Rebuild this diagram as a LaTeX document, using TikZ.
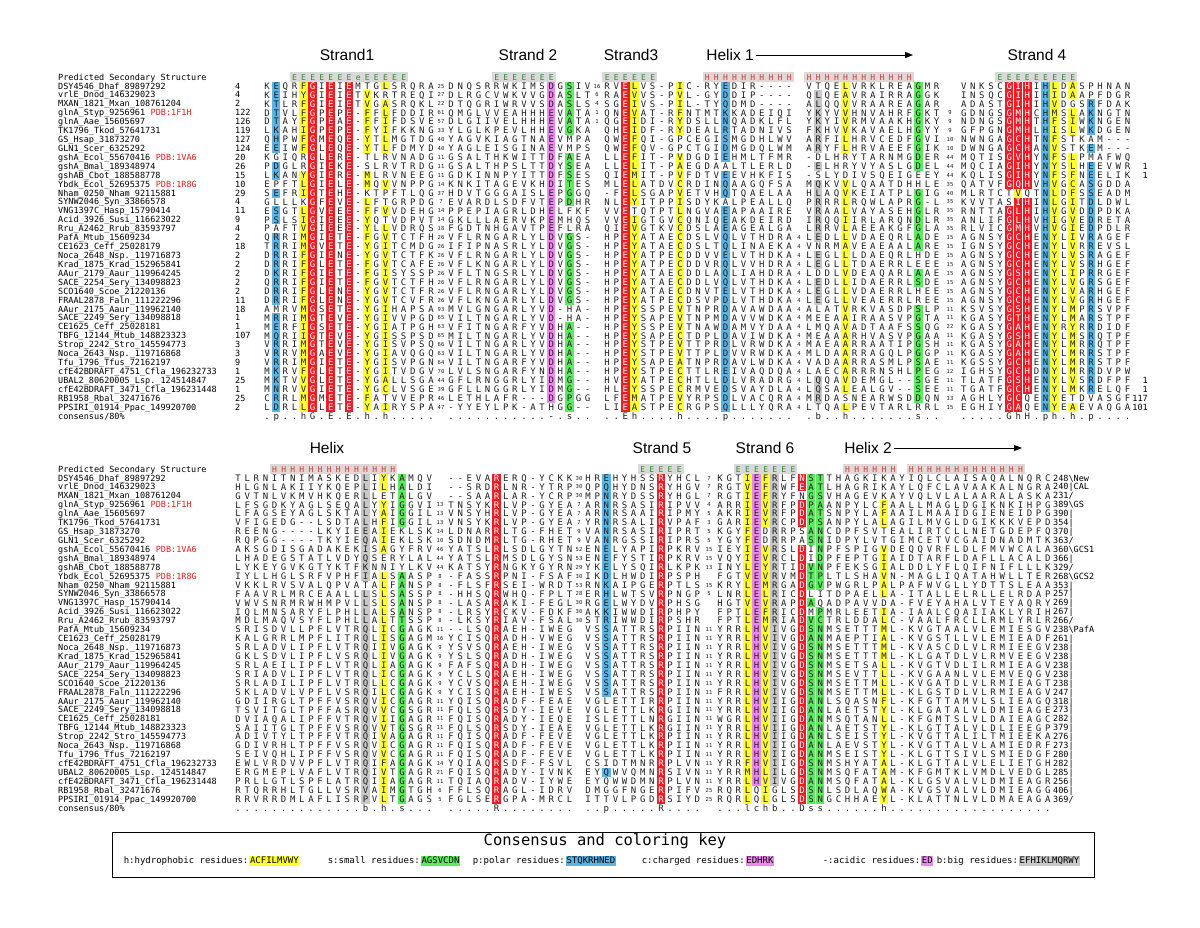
\documentclass[tikz,border=0pt]{standalone}
\usepackage{fontspec}
\setmainfont{DejaVu Sans Mono}
\newfontfamily\labfont{Liberation Sans}
\usetikzlibrary{arrows.meta}
\definecolor{cR}{HTML}{EE1C25}
\definecolor{cY}{HTML}{FFFF33}
\definecolor{cB}{HTML}{5AB4E5}
\definecolor{cG}{HTML}{5CEB5C}
\definecolor{cP}{HTML}{EE88EE}
\definecolor{cK}{HTML}{C8C8C8}
\definecolor{ssEbg}{HTML}{D9D9D9}
\definecolor{ssHbg}{HTML}{E3D6D6}
\definecolor{ssEtx}{HTML}{2E8B2E}
\definecolor{ssHtx}{HTML}{C83A3A}
\definecolor{pdbred}{HTML}{E02020}
\definecolor{txt}{HTML}{202020}
\newlength\cw \setlength\cw{9.1pt}
\makeatletter
\newcount\sqi
\def\redset{}
\def\sqend{}
\def\sqstop{\sqend}
\def\sqx#1{\def\sqtmp{#1}\ifx\sqtmp\sqstop\else
 \edef\sqtest{\noexpand\in@{,\the\sqi,}{\redset}}\sqtest
 \ifin@\makebox[\cw][c]{\color{white}#1}\else\makebox[\cw][c]{#1}\fi
 \advance\sqi by 1\relax
 \expandafter\sqx\fi}
\makeatother
\newcommand\sq[1]{\sqi=0\relax\sqx#1\sqend}
\expandafter\def\csname tred13\endcsname{}
\expandafter\def\csname tred14\endcsname{,6,7,}
\expandafter\def\csname tred36\endcsname{,5,6,}
\expandafter\def\csname tred37\endcsname{,5,6,}
\expandafter\def\csname bred3\endcsname{}
\expandafter\def\csname bred7\endcsname{}
\expandafter\def\csname bred8\endcsname{}
\newcommand\ty[1]{86+(#1-1)*8.92}
\newcommand\by[1]{478+(#1-1)*8.92}
\tikzset{
 nm/.style={anchor=west,inner sep=0pt,font=\fontsize{8.5}{8.5}\selectfont,text height=6pt,text depth=0pt,text=black},
 sqs/.style={anchor=west,inner sep=0pt,font=\fontsize{9}{9}\selectfont,text height=6.5pt,text depth=0pt,text=txt},
 sss/.style={anchor=west,inner sep=0pt,font=\fontsize{8}{8}\selectfont,text height=6pt,text depth=0pt},
 sm/.style={inner sep=0pt,font=\fontsize{5.5}{5.5}\selectfont,text height=4pt,text depth=0pt,text=txt},
 lbl/.style={inner sep=0pt,font=\labfont\fontsize{15.5}{15.5}\selectfont},
 keyt/.style={inner sep=0pt,font=\fontsize{15.5}{15.5}\selectfont},
 keyi/.style={anchor=west,inner sep=0.6pt,font=\fontsize{9}{9}\selectfont,text height=6.5pt,text depth=1.8pt},
 arr/.style={-{Triangle[length=8pt,width=6pt]},line width=1pt}
}
\newcommand\tb[5]{\fill[#5] ({#1+#2*9.1-4.3},{\ty{#3}-4.46}) rectangle ({#1+#2*9.1+4.3},{\ty{#4}+4.46});}
\newcommand\bb[5]{\fill[#5] ({#1+#2*9.1-4.3},{\by{#3}-4.46}) rectangle ({#1+#2*9.1+4.3},{\by{#4}+4.46});}
\newcommand\ssE[6]{\fill[ssEbg] ({#2+#3*9.1-4.55},{#5-4.7}) rectangle ({#2+#4*9.1+4.55},{#5+4.7});
 \node[sss,text=ssEtx] (#1) at ({#2+#3*9.1-4.55},#5) {\sq{#6}};}
\newcommand\ssH[6]{\fill[ssHbg] ({#2+#3*9.1-4.55},{#5-4.7}) rectangle ({#2+#4*9.1+4.55},{#5+4.7});
 \node[sss,text=ssHtx] (#1) at ({#2+#3*9.1-4.55},#5) {\sq{#6}};}
\newcommand\nmrow[3]{\node[nm] (#1) at (58,{#2}) {\detokenize{#3}};}
\newcommand\pdb[2]{\node[nm,text=pdbred] (#1p) at ([xshift=5.1pt]#1.east) {#2};}
\newcommand\allnames[2]{%
\nmrow{#1n1}{#2+0*8.92}{DSY4546_Dhaf_89897292}
\nmrow{#1n2}{#2+1*8.92}{vrlE_Dnod_146329023}
\nmrow{#1n3}{#2+2*8.92}{MXAN_1821_Mxan_108761204}
\nmrow{#1n4}{#2+3*8.92}{glnA_Styp_9256961}\pdb{#1n4}{PDB:1F1H}
\nmrow{#1n5}{#2+4*8.92}{glnA_Aae_15605697}
\nmrow{#1n6}{#2+5*8.92}{TK1796_Tkod_57641731}
\nmrow{#1n7}{#2+6*8.92}{GS_Hsap_31873270}
\nmrow{#1n8}{#2+7*8.92}{GLN1_Scer_6325292}
\nmrow{#1n9}{#2+8*8.92}{gshA_Ecol_55670416}\pdb{#1n9}{PDB:1VA6}
\nmrow{#1n10}{#2+9*8.92}{gshA_Bmal_189348974}
\nmrow{#1n11}{#2+10*8.92}{gshAB_Cbot_188588778}
\nmrow{#1n12}{#2+11*8.92}{Ybdk_Ecol_52695375}\pdb{#1n12}{PDB:1R8G}
\nmrow{#1n13}{#2+12*8.92}{Nham_0250_Nham_92115881}
\nmrow{#1n14}{#2+13*8.92}{SYNW2046_Syn_33866578}
\nmrow{#1n15}{#2+14*8.92}{VNG1397C_Hasp_15790414}
\nmrow{#1n16}{#2+15*8.92}{Acid_3926_Susi_116623022}
\nmrow{#1n17}{#2+16*8.92}{Rru_A2462_Rrub_83593797}
\nmrow{#1n18}{#2+17*8.92}{PafA_Mtub_15609234}
\nmrow{#1n19}{#2+18*8.92}{CE1623_Ceff_25028179}
\nmrow{#1n20}{#2+19*8.92}{Noca_2648_Nsp._119716873}
\nmrow{#1n21}{#2+20*8.92}{Krad_1875_Krad_152965841}
\nmrow{#1n22}{#2+21*8.92}{AAur_2179_Aaur_119964245}
\nmrow{#1n23}{#2+22*8.92}{SACE_2254_Sery_134098823}
\nmrow{#1n24}{#2+23*8.92}{SCO1640_Scoe_21220136}
\nmrow{#1n25}{#2+24*8.92}{FRAAL2878_Faln_111222296}
\nmrow{#1n26}{#2+25*8.92}{AAur_2175_Aaur_119962140}
\nmrow{#1n27}{#2+26*8.92}{SACE_2249_Sery_134098818}
\nmrow{#1n28}{#2+27*8.92}{CE1625_Ceff_25028181}
\nmrow{#1n29}{#2+28*8.92}{TBFG_12144_Mtub_148823323}
\nmrow{#1n30}{#2+29*8.92}{Strop_2242_Stro_145594773}
\nmrow{#1n31}{#2+30*8.92}{Noca_2643_Nsp._119716868}
\nmrow{#1n32}{#2+31*8.92}{Tfu_1796_Tfus_72162197}
\nmrow{#1n33}{#2+32*8.92}{cfE42BDRAFT_4751_Cfla_196232733}
\nmrow{#1n34}{#2+33*8.92}{UBAL2_80620005_Lsp._124514847}
\nmrow{#1n35}{#2+34*8.92}{cfE42BDRAFT_3471_Cfla_196231448}
\nmrow{#1n36}{#2+35*8.92}{RB1958_Rbal_32471676}
\nmrow{#1n37}{#2+36*8.92}{PPSIRI_01914_Ppac_149920700}
\node[nm] (#1cons) at (58,{#2+37*8.92}) {consensus/80\%};
\nmrow{#1pred}{#2-9}{Predicted Secondary Structure}}
\newcommand\trow[8]{%
\node[nm] (t#1s) at (235,{\ty{#1}}) {#2};
\node[sqs] (t#1a) at ({267-4.55},{\ty{#1}}) {\def\redset{,5,7,9,}\sq{#3}};
\node[sm] (t#1x) at (441,{\ty{#1}}) {#4};
\node[sqs] (t#1b) at ({451-4.55},{\ty{#1}}) {\sq{#5}};
\node[sm] (t#1y) at (597,{\ty{#1}}) {#6};
\node[sqs] (t#1c) at ({607-4.55},{\ty{#1}}) {\def\redset{,2,}\sq{#7}};
\node[sm] (t#1z) at (799,{\ty{#1}}) {#8};}
\newcommand\trowb[5]{%
\node[sqs] (t#1d) at ({809-4.55},{\ty{#1}}) {\sq{#2}};
\node[sm] (t#1w) at (950,{\ty{#1}}) {#3};
\node[sqs] (t#1e) at ({963.5-4.55},{\ty{#1}}) {\def\redset{,5,6,7,}\ifcsname tred#1\endcsname\edef\redset{\csname tred#1\endcsname}\fi\sq{#4}};
\node[nm,anchor=east] (t#1v) at (1148,{\ty{#1}}) {#5};}
\newcommand\brow[9]{%
\node[sqs] (b#1a) at ({238-4.55},{\by{#1}}) {\sq{#2}};
\node[sm] (b#1x) at (440,{\by{#1}}) {#3};
\node[sqs] (b#1b) at ({451-4.55},{\by{#1}}) {\def\redset{,5,}\sq{#4}};
\node[sm] (b#1y) at (579,{\by{#1}}) {#5};
\node[sqs] (b#1c) at ({588-4.55},{\by{#1}}) {\def\redset{,8,}\sq{#6}};
\node[sm] (b#1z) at (709,{\by{#1}}) {#7};
\node[sqs] (b#1d) at ({720-4.55},{\by{#1}}) {\def\redset{,9,}\ifcsname bred#1\endcsname\edef\redset{\csname bred#1\endcsname}\fi\sq{#8}};
\node[nm] (b#1w) at (1053,{\by{#1}}) {#9};}
\newcommand\bs{\textbackslash}
\begin{document}
\begin{tikzpicture}[x=1pt,y=-1pt]
\fill[white] (0,0) rectangle (1200,927);
\useasboundingbox (0,0) rectangle (1200,927);
% ---------- headers
\node[lbl] (Ls1) at (347,55) {Strand1};
\node[lbl] (Ls2) at (528,55) {Strand 2};
\node[lbl] (Ls3) at (631,55) {Strand3};
\node[lbl] (Lh1) at (730,55) {Helix 1};
\coordinate (Lh1end) at (913,55);
\draw[arr] ([xshift=2pt]Lh1.east) -- (Lh1end);
\node[lbl] (Ls4) at (1037,55) {Strand 4};
\node[lbl] (Lh) at (327,448) {Helix};
\node[lbl] (Ls5) at (662,448) {Strand 5};
\node[lbl] (Ls6) at (765,448) {Strand 6};
\node[lbl] (Lh2) at (868,448) {Helix 2};
\coordinate (Lh2end) at (1022,448);
\draw[arr] ([xshift=2pt]Lh2.east) -- (Lh2end);
% ---------- secondary structure rows
\ssE{tS1}{267}{3}{15}{77}{EEEEEEEeEEEEE}
\ssE{tS2}{451}{5}{11}{77}{EEEEEEE}
\ssE{tS3}{607}{0}{5}{77}{EEEEEE}
\ssH{tH1}{607}{11}{20}{77}{HHHHHHHHHH}
\ssH{tH2}{809}{0}{11}{77}{HHHHHHHHHHHH}
\ssE{tS4}{963.5}{4}{12}{77}{EEEEEEEEE}
\ssH{bH1}{238}{4}{17}{469}{HHHHHHHHHHHHHH}
\ssE{bS5}{588}{6}{10}{469}{EEEEE}
\ssE{bS6}{720}{2}{8}{469}{EEEEEEE}
\ssH{bH2}{720}{14}{19}{469}{HHHHHH}
\ssH{bH3}{720}{21}{33}{469}{HHHHHHHHHHHHH}
% ---------- top colour bands
\tb{267}{1}{1}{8}{cB}\tb{267}{1}{10}{11}{cB}\tb{267}{1}{13}{13}{cB}\tb{267}{1}{15}{16}{cB}\tb{267}{1}{18}{25}{cB}\tb{267}{1}{27}{37}{cB}
\tb{267}{4}{1}{8}{cY}\tb{267}{4}{11}{13}{cY}\tb{267}{4}{15}{37}{cY}
\tb{267}{5}{1}{37}{cR}\tb{267}{7}{1}{37}{cR}\tb{267}{9}{1}{37}{cR}
\tb{267}{11}{2}{8}{cY}\tb{267}{11}{11}{12}{cY}\tb{267}{11}{14}{37}{cY}
\tb{267}{13}{1}{1}{cY}\tb{267}{13}{3}{8}{cY}\tb{267}{13}{12}{12}{cY}\tb{267}{13}{15}{15}{cY}\tb{267}{13}{17}{35}{cY}\tb{267}{13}{37}{37}{cY}
\tb{451}{11}{1}{36}{cP}
\tb{451}{13}{1}{6}{cG}\tb{451}{13}{9}{14}{cG}\tb{451}{13}{18}{25}{cG}\tb{451}{13}{28}{37}{cG}
\tb{607}{2}{1}{37}{cR}
\tb{607}{3}{1}{14}{cY}\tb{607}{3}{16}{37}{cY}
\tb{607}{8}{1}{6}{cY}\tb{607}{8}{9}{37}{cY}
\tb{607}{13}{1}{9}{cB}\tb{607}{13}{11}{13}{cB}\tb{607}{13}{15}{37}{cB}
\tb{809}{1}{2}{8}{cK}\tb{809}{1}{10}{10}{cK}\tb{809}{1}{12}{18}{cK}\tb{809}{1}{20}{21}{cK}\tb{809}{1}{23}{25}{cK}\tb{809}{1}{34}{36}{cK}
\tb{809}{4}{1}{8}{cY}\tb{809}{4}{12}{35}{cY}\tb{809}{4}{37}{37}{cY}
\tb{809}{12}{1}{10}{cG}\tb{809}{12}{13}{19}{cG}\tb{809}{12}{22}{23}{cG}\tb{809}{12}{26}{36}{cG}
\tb{963.5}{5}{1}{12}{cR}\tb{963.5}{5}{15}{37}{cR}
\tb{963.5}{6}{1}{12}{cR}\tb{963.5}{6}{14}{37}{cR}\tb{963.5}{6}{13}{13}{cY}
\tb{963.5}{7}{1}{12}{cR}\tb{963.5}{7}{14}{35}{cR}
\tb{963.5}{9}{1}{37}{cB}
\tb{963.5}{10}{1}{37}{cY}
\tb{963.5}{12}{1}{2}{cY}\tb{963.5}{12}{4}{6}{cY}\tb{963.5}{12}{9}{35}{cY}\tb{963.5}{12}{37}{37}{cY}
\tb{963.5}{14}{3}{6}{cB}\tb{963.5}{14}{8}{8}{cB}\tb{963.5}{14}{10}{35}{cB}
% ---------- bottom colour bands
\bb{238}{14}{1}{12}{cK}\bb{238}{14}{14}{37}{cK}
\bb{238}{16}{1}{2}{cY}\bb{238}{16}{4}{9}{cY}\bb{238}{16}{12}{37}{cY}
\bb{238}{18}{1}{6}{cG}\bb{238}{18}{12}{37}{cG}
\bb{451}{5}{1}{37}{cR}
\bb{588}{2}{1}{25}{cB}\bb{588}{2}{34}{34}{cB}
\bb{588}{8}{1}{37}{cR}
\bb{720}{3}{1}{37}{cY}
\bb{720}{4}{1}{35}{cP}
\bb{720}{5}{1}{6}{cY}\bb{720}{5}{9}{37}{cY}
\bb{720}{6}{1}{35}{cK}
\bb{720}{9}{1}{2}{cR}\bb{720}{9}{4}{6}{cR}\bb{720}{9}{9}{37}{cR}
\bb{720}{10}{1}{8}{cG}\bb{720}{10}{11}{13}{cG}\bb{720}{10}{15}{15}{cG}\bb{720}{10}{17}{37}{cG}
\bb{720}{11}{1}{13}{cG}\bb{720}{11}{16}{37}{cG}
\bb{720}{18}{4}{6}{cY}\bb{720}{18}{9}{14}{cY}\bb{720}{18}{16}{37}{cY}
% ---------- names
\allnames{t}{86}
\allnames{b}{478}
% ---------- top block
\trow{1}{4}{KEQRFGIEIEMTGLSRQRA}{25}{DNQSRRWKIMSDGSIV}{16}{RVELVS-PIC-RYEDIR----}{}
\trow{2}{4}{KEIHYGIEIETVKRTREQI}{27}{DLRGCVWKVVGDASLT}{6}{RAEVVS-PVL-GYDDIP----}{}
\trow{3}{2}{KTLRFGIEIETVGASRQKL}{22}{DTQGRIWRVVSDASLS}{4}{SGEIVS-PIL-TYQDMD----}{}
\trow{4}{122}{DTVLFGPEPE-FFLFDDIR}{61}{QMGLVVEAHHHEVATA}{1}{QNEVAT-RFNTMTKKADEIQI}{}
\trow{5}{126}{DTAYFGPEAE-FFIFDSVE}{57}{DLGIIVELHHHEVATA}{1}{QGEIDI-RYDSLLNQADKLFL}{}
\trow{6}{119}{LKAHIGPEPE-FYIFKKNG}{33}{YLGLKPEVLHHEVGKA}{}{QHEIDF-RYDEALRTADNIVS}{}
\trow{7}{127}{QHPWFGMEQE-YTLMGTDG}{40}{YAGVKIAGTNAEVMPA}{}{QWEFQI-GPCEGISMGDHLWV}{}
\trow{8}{124}{EEIWFGLEQE-YTLFDMYD}{40}{YAGLEISGINAEVMPS}{}{QWEFQV-GPCTGIDMGDQLWM}{}
\trow{9}{20}{KGIQRGLERE-TLRVNADG}{11}{GSALTHKWITTDFAEA}{}{LLEFIT-PVDGDIEHMLTFMR}{}
\trow{10}{26}{PDGLRGIEKE-SLRVTRDG}{11}{GSALTHPSLTTDYSEA}{}{LLELIT-PAEGDAALTLERLD}{}
\trow{11}{15}{LKANYGIERE-MLRVNEEG}{11}{GDKINNPYITTDFSES}{}{QIEMIT-PVFDTVEEVHKFIS}{}
\trow{12}{10}{EPFTLGIELE-MQVVNPPG}{14}{KNKITAGEVKHDITES}{}{MLELATDVCRDINQAAGQFSA}{}
\trow{13}{29}{SEFRIGTEHE-KTPFTLQG}{37}{HDVTGGGAISLEPGGQ}{}{-FELSGAPVETVHQTQAELAA}{}
\trow{14}{4}{GLLLKGFEVE-LFTGRPDG}{7}{EVARDLSDFVTEPDHR}{}{NLEYITPPISDYKALPEALLQ}{}
\trow{15}{11}{ESGTLGVEEE-FFVVDEHG}{14}{PPEPIAGRLDHELFKF}{}{VVETQTPTLNGVAEAPAAIRE}{}
\trow{16}{9}{PSLSIGIEEE-YQTVDPVT}{14}{GKLLLAERVKPEMHQS}{}{VVEIGTGVCQNIQEAKDEIRD}{}
\trow{17}{4}{PAFTVGIEEE-YLLVDRQS}{18}{FGDTNHGAVTPEFLRA}{}{QIEVGTKVCDSLAEAGEALGA}{}
\trow{18}{2}{QRRIMGIETE-FGVTCTFH}{26}{VFLRNGARLYLDVGS-}{}{HPEYATAECDSLVQLVTHDRA}{4}
\trow{19}{18}{TRRIMGVETE-YGITCMDG}{26}{IFIPNASRLYLDVGS-}{}{HPEYATAECDSLTQLINAEKA}{4}
\trow{20}{2}{DRRIFGIENE-YGVTCTFK}{26}{VFLRNGARLYLDVGS-}{}{HPEYATPECDDVVELVTHDKA}{4}
\trow{21}{2}{DRRIFGLETE-FGVTCAFE}{26}{VFLKNGARLYLDVGS-}{}{HPEYATPECDDVRQLVVHDRA}{4}
\trow{22}{2}{DKRIFGIETE-FGISYSSP}{26}{VFLTNGSRLYLDVGS-}{}{HPEYATAECDDLAQLIAHDRA}{4}
\trow{23}{2}{QRRIFGIETE-FGVTCTFH}{26}{VFLRNGARLYLDVGS-}{}{HPEYATAECDDLVQLVTHDKA}{4}
\trow{24}{2}{DRRIFGLENE-YGVTCTFR}{26}{VFLRNGARLYLDVGS-}{}{HPEYATAECDNVTELVTHDKA}{4}
\trow{25}{11}{DRRIFGLENE-YGVTCVFR}{26}{VFLKNGARLYLDVGS-}{}{HPEYATPECDSVPDLVTHDKA}{4}
\trow{26}{18}{AMRVMGSETE-YGIHAPSA}{93}{MVLGNGARLYVD-HA-}{}{HPEYSSPEVTNPRDAVAWDAA}{4}
\trow{27}{1}{MRRIMGTEVE-YGIVVPGD}{65}{VILTNGARLYVD-HA-}{}{HPEYSAPEVTNPMDAVVWDKA}{4}
\trow{28}{1}{MERFIGSETE-YGIATPGH}{63}{VFITNGARFYVDHA--}{}{HPEYSSPEVTNAWDAMVYDAA}{4}
\trow{29}{107}{MQRIIGTEVE-YGISSPSD}{65}{MILTNGARLYVDHA--}{}{HPEYSAPECTDPLDAVIWDKA}{4}
\trow{30}{3}{VRRIMGTEVE-YGISVPSQ}{66}{VILTNGARLYVDHA--}{}{HPEYSTPEVTTPRDLVRWDKA}{4}
\trow{31}{3}{VRRVMGAEVE-YGIAVQGQ}{63}{VILTNGARLYVDHA--}{}{HPEYSTPEVTTPLDVVRWDKA}{4}
\trow{32}{9}{VRRIMGIETE-YGISVPGN}{64}{VILTNGARFYVDHA--}{}{HPEYSAPEATNPRDAVLWDKA}{4}
\trow{33}{1}{MKRVFGLETE-YGITVDGV}{70}{LVLSNGARFYNDHA--}{}{HPEYSTPECTTLREIVAQDQA}{4}
\trow{34}{25}{MKTVVGLETE-YGALLSGA}{44}{GFLRNGGRLYIDMG--}{}{HVEYATPECHTLLDLVRADRG}{4}
\trow{35}{1}{MNRVVGIETE-YGCLVSGE}{39}{GFLLNGGRLYIDMG--}{}{HLEYSSPECRMVEDSVAYDLA}{4}
\trow{36}{25}{CRRLMGMETE-FATVVEPR}{46}{LETHLAFR---DGPGG}{}{LFEMATPEVYRPSDLVACQRA}{4}
\trow{37}{2}{LDRLLGLETE-YAIRYSPA}{47}{-YYEYLPK-ATHGG--}{}{LIEASTPECRGPSQLLLYQRA}{4}
\trowb{1}{VTQELVRKLREAGMR}{}{VNKSCGIHIHLDASPHNAN}{}
\trowb{2}{QLQEAVRAIRRAGGK}{}{INSQCGIHIHIDAAPFDGR}{}
\trowb{3}{ALQQVVRAAREAGAR}{}{ADASTGIHIHVDGSRFDAK}{}
\trowb{4}{YKYVVHNVAHRFGKT}{9}{GDNGSGMHCHMSLAKNGTN}{}
\trowb{5}{YKYIVRMVAAKHGKY}{9}{NDNGSGMHTHFSIWKNGEN}{}
\trowb{6}{FKHVVKAVAELHGYY}{9}{GFPGNGMHLHISLWKDGEN}{}
\trowb{7}{ARFILHRVCEDFGVI}{10}{NWNGAGCHTNFSTKAM---}{}
\trowb{8}{ARYFLHRVAEEFGIK}{10}{DWNGAGCHANVSTKEM---}{}
\trowb{9}{-DLHRYTARNMGDER}{44}{MQTISGVHYNFSLPMAFWQ}{}
\trowb{10}{-ELHRYVYASLGDEL}{44}{MQCIAGIHYNYSLHEEVWR}{1}
\trowb{11}{-SLYDIVSQEIGEEY}{44}{KQLISGIHYNFSFNEELIK}{1}
\trowb{12}{MQKVVLQAATDHHLE}{35}{QATVFGQHVHVGCASGDDA}{}
\trowb{13}{HLAQVKEIATPLGIG}{40}{MLRTCTVQTNLDFSSEADM}{}
\trowb{14}{PRRRLRQWLAPRG-L}{35}{KVVTASIHINLGITDLDWL}{}
\trowb{15}{VRAALVAYASEHGLR}{35}{RNTTAGLHIHVGVDDPDKA}{}
\trowb{16}{IRQQIIRLARQNDLR}{35}{ANLIFGLHVHIGVEDRETA}{}
\trowb{17}{LRRVLAEEAKGFGLA}{35}{RLVICGMHVHVGIEDPDLR}{}
\trowb{18}{LEDLLVDAEQRLADE}{15}{AGNSYGCHENYLIVRAGEF}{}
\trowb{19}{VNRMAVEAEAALARE}{15}{IGNSYGCHENYLVRREVSL}{}
\trowb{20}{LEGLLLDAEQRLHDE}{15}{AGNSYGCHENYLVSRAGEF}{}
\trowb{21}{LEGLLTDAERRLEEE}{15}{AGNSYGCHENYLVSRHGEF}{}
\trowb{22}{LDDLVDEAQARLAAE}{15}{AGNSYGSHENYLIPRRGEF}{}
\trowb{23}{LEDLLIDAERRLSDE}{15}{AGNSYGCHENYLVGRSGEF}{}
\trowb{24}{LEGLLVDAERRLHEE}{15}{AGNSYGCHENYLVARHGEF}{}
\trowb{25}{LEGLLVEAERRLREE}{15}{AGNSYGCHENYLVGRHGEF}{}
\trowb{26}{ALATVRKVASDPSLP}{11}{KSVSYGSHENYLMPRSVPF}{}
\trowb{27}{MEEAAIRAASVPGTA}{11}{KGASYGTHENYLMARSTPF}{}
\trowb{28}{LMQAVADTAAFSSQG}{22}{KGASYGAHENYRYRRDIDF}{}
\trowb{29}{MEAAARHVASVPGAA}{11}{KGASYGSHENYLMSRQTPF}{}
\trowb{30}{MAEAARRAATIPGSH}{11}{KGASYGAHENYLMRRQTPF}{}
\trowb{31}{MLDAARRAGQLPGGP}{11}{KGASYGAHENYLMRRSTPF}{}
\trowb{32}{VADAARRASMLPSAE}{11}{KGSSYGCHENYLMRRSTPF}{}
\trowb{33}{LAECARRRNSHLPEG}{12}{IGHSYGCHDNYLMRRDVPW}{}
\trowb{34}{LQQAVDEMGL--SGE}{11}{TLATFGSHENYLVSRDFPF}{1}
\trowb{35}{LQSALEALGV--SEE}{11}{TGATFGCHENYLMKRELQF}{1}
\trowb{36}{MRDASNEARWSDDQN}{13}{AGHLYGCQENYETDVASGF}{117}
\trowb{37}{LTQALPEVTARLRRL}{15}{EGHIYGAQENYEAEVAQGA}{101}
% top consensus
\node[sqs] (tCa) at ({267-4.55},{\ty{38}}) {\sq{.p..hG.E.E.h.h.....}};
\node[sqs] (tCb) at ({451-4.55},{\ty{38}}) {\sq{...........-.s..}};
\node[sqs] (tCc) at ({607-4.55},{\ty{38}}) {\sq{..Eh....h....p.......}};
\node[sqs] (tCd) at ({809-4.55},{\ty{38}}) {\sq{.b..h.......s..}};
\node[sqs] (tCe) at ({963.5-4.55},{\ty{38}}) {\sq{.....GhH.ph.h.p....}};
% ---------- bottom block
\brow{1}{TLRNITNIMASKEDLIYKAMQV}{}{--EVARERQ-YCKK}{30}{HREHYHSSRYHCL}{7}{KGTIEFRLFNSTTHAGKIKAYIQLCLAISAQALNQRC}{248\bs New}
\brow{2}{HLGNLAKIIYKQEPLILHALDI}{}{--SRDRLNR-YTRP}{30}{QPQHYDNSRYHGV}{7}{RGTVEFRWFEATLHAGRIKAYLQFCLAVAAKALNGRA}{240|CAL}
\brow{3}{GVTNLVKMVHKQERLLETALGV}{}{--SAARLAR-YCRP}{30}{MPNRYDSSRYHGL}{7}{RGTIEFRYFNGSVHAGEVKAYVQLVLALAARALASKA}{231/}
\brow{4}{LFSGDKYAGLSEQALYYIGGVI}{13}{TNSYKRLVP-GYEA}{7}{ARNRSASIRIPVV}{4}{ARRIEVRFPDPAANPYLCFAALLMAGLDGIKNKIHPG}{389\bs GS}
\brow{5}{LFAGSEYAGLSKTALYAIGGIL}{13}{VNSYHRLVP-GYEA}{7}{ARNRSAAIRIPMY}{5}{AKRIEVRFPDATSNPYLAFAAILMAAIDGIENEIDPG}{390|}
\brow{6}{VFIGEDG--LSDTALHFIGGIL}{13}{VNSYKRLVP-GYEA}{7}{YRNRSALIRVPAF}{3}{GARIEYRCPDPSANPYLALAGILMVGLDGIKKKVEPD}{354|}
\brow{7}{REENG----LKYIEEAIEKLSK}{14}{LDNARRLTG-FHET}{9}{VANRSASIRIPRT}{5}{KGYFEDRRPSANCDPFSVTEALIRTCLLNETGDEPFQ}{370|}
\brow{8}{RQPGG----TKYIEQAIEKLSK}{10}{SDNDMRLTG-RHET}{9}{VANRGSSIRIPRS}{5}{YGYFEDRRPASNIDPYLVTGIMCETVCGAIDNADMTK}{363/}
\brow{9}{AKSGDISGADAKEKISAGYFRV}{46}{YATSLRLSDLGYTN}{52}{ENELYAPIRPKRV}{15}{IEYIEVRSLDINPFSPIGVDEQQVRFLDLFMVWCALA}{360\bs GCS1}
\brow{10}{LHADEGSTATLVDYQSERYLAL}{44}{YATSLRMSDLGYSN}{53}{ENEFYSTIRPKRV}{15}{VQYIEVRCLDIDPFEPTGIAIDTARFLDAFLLACALD}{366|}
\brow{11}{LYKEYGVKGTYKTFKNNIYLKV}{44}{KATSYRNGKYGYRN}{29}{YKELYSQIRLKPK}{13}{INYLEYRTIDVNPFEKSGIALDDLYFLQIFNIFLLLK}{329/}
\brow{12}{IYLLHGLSRFVPHFIALSAASP}{8}{-FASSRPNI-FSAF}{30}{IKDLHWDIRPSPH}{}{FGTVEVRVMDTPLTLSHAVN-MAGLIQATAHWLLTER}{268\bs GCS2}
\brow{13}{VKKLRVSVALQPVATALFANSP}{8}{-FLSFRSEI-WRDT}{53}{RNKAIPGERPTLS}{15}{KRYLEMRGADGVPWGRLPALPAFWVGLLYDTTSLEAA}{353|}
\brow{14}{FAAVRLMRCEAALLLSLSASSP}{8}{-HHSQRWHQ-FPLT}{28}{ERHLWTSVRPNGP}{5}{LNRLELRICDLITDPAELLA-ITALLELRLLELRDAP}{257|}
\brow{15}{VWVSNRMRWHMPVLLSLSANSP}{8}{-LASARAKI-FEGL}{30}{RGELWYDVRPHSG}{}{HGTVEVRAPDAQADPAVVDA-FVEYAHALVTEYAQRY}{269|}
\brow{16}{IQLMNSARYFLPHLLALSANSP}{8}{-LRSYRCKV-FDKF}{30}{AKKIWWDIRPHPY}{}{FPTLEFRICDMPMRLEETIA-IAALCQAIIAKLYRIH}{267|}
\brow{17}{MDLMAQVSYFLPHLLALTTSSP}{8}{-LKSYRIAV-FSAL}{30}{STRIWWDIRPSHR}{}{FPTLEMRIADVCTRLDDALC-VAALFRCLLRMLYRLR}{266/}
\brow{18}{SRISDVLLPFLVTRQLICGAGK}{11}{--LSQRAEH-IWEG}{}{VSSATTRSRPIIN}{11}{YRRLHVIVGDSNMSETTTML-KVGTAALVLEMIESGV}{238\bs PafA}
\brow{19}{KALGRRLMPFLITRQLISGAGM}{16}{YCISQRADH-VWEG}{}{VSSATTRSRPIIN}{11}{YRRLHVIVGDANMAEPTIAL-KVGSTLLVLEMIEADF}{261|}
\brow{20}{SRLADVLIPFLVTRQIIVGAGK}{9}{YSVSQRAEH-IWEG}{}{VSSATTRSRPIIN}{11}{YRRLHVIVGDSNMSETTTML-KVASCDLVLRMIEEGV}{238|}
\brow{21}{GKLSDVLIPFLVSRQLIVGAGK}{9}{YSLSQRADH-IWEG}{}{VSSATTRSRPIIN}{11}{YRRLHVIVGDSNMSETTTML-KLGATDLVLRMVEEGV}{238|}
\brow{22}{SRLAEILIPFLVTRQLIAGAGK}{9}{FAFSQRADH-IWEG}{}{VSSATTRSRPIIN}{11}{YRRLHVIVGDSNMSETSALL-KVGTVDLILRMIEAGV}{238|}
\brow{23}{SRIADVLIPFLVTRQLICGAGK}{9}{YCLSQRAEH-IWEG}{}{VSSATTRSRPIIN}{11}{YRRLHVIVGDSNMSEVTTLL-KVGAANLVLEMVEQGV}{238|}
\brow{24}{SRLADILIPFLVTRQLLCGAGK}{9}{YCVSQRAEH-IWEG}{}{VSSATTRSRPIIN}{11}{YRRLHVIVGDSNMSETTMLL-KVGATDLVLRMIEAGT}{238|}
\brow{25}{SKLADVLVPFLVSRQILCGAGK}{9}{YCISQRAEH-IWES}{}{VSSATTRSRPIIN}{11}{FRRLHVIVGDSNMSETTMLL-KLGSTDLVLRMIEAGV}{247|}
\brow{26}{GDIIRGLTPFFVSRQVICGAGR}{11}{YQISQRADF-FEAE}{}{VGLETTIRRPIIN}{11}{YRRLHVIIGDANLSQASNFL-KFGTTAMVLSLIEAGQ}{318|}
\brow{27}{TSVITGLTPFFASRQVVCGSGR}{11}{FQLSQRSDY-IEVE}{}{VGLETTLKRGIIN}{11}{YRRLHVIIGDANLAETSTYL-KLGATALVLDMIEAGE}{273|}
\brow{28}{DVIAQALIPFFVTRQVIIGAGR}{11}{FQISQRADY-IEQE}{}{ISLETTLNRGIIN}{11}{WGRLHVIIGDANMSQTANLL-KFGMTSLVLDAIEAGC}{282|}
\brow{29}{SAIITGLTPFFVSRQVVTGSGR}{11}{FQLSQRSDY-IEAE}{}{VGLETTLKRGIIN}{11}{YRRLHVIIGDANLAETSTYL-KLGTTALVLDLIEEGP}{379|}
\brow{30}{ADIVTYLTPFFVTRQIVAGAGR}{11}{FQISQRADF-FEVE}{}{VGLETTLKRPIIN}{11}{YRRLHVIIGDANLSEISTYL-KVGTTALILTMIEEKA}{276|}
\brow{31}{GDIVRHLTPFFVSRQVICGAGR}{11}{FQISQRADF-FEVE}{}{VGLETTLKRPIIN}{11}{YRRLHVIIGDANLAEVSTYL-KVGTTALVLAMIEDRF}{273|}
\brow{32}{SEIVQHLIPFFVSRQVVCGAGR}{11}{FQISQRADF-FEVE}{}{VGLETTLKRPIIN}{11}{YRRLHVIIGDANMSEISTYL-KLGTTSIVLSMIEDGF}{280|}
\brow{33}{EWLVRDVVPFLVTRQIFAGAGK}{14}{YQIAQRSDF-FSVL}{}{CSIDTMNRRPLVN}{11}{YRRFHVIIGDSNMSHYATAL-KLGTTALVLELIETGH}{282|}
\brow{34}{ERGMEPLVAFLVTRQIVTGAGR}{21}{FQISQRADY-IVNK}{}{EYQWVQMNRSIVN}{11}{YRRMHLILGDSNMSQFATAM-KFGMTKLVMDLVEDGL}{285|}
\brow{35}{PRLLGTLSPFLATRQIIAGAGR}{11}{TQIAQRADV-IYWE}{}{EYQWWDMNRPLVN}{11}{YRRLHVIVGDANMSQFATAL-KLGSVALVLDMIEAGR}{256|}
\brow{36}{RTQRRHLTGLLVSRVAIMGTGH}{6}{FFLSQRAGL-IDRV}{}{DMGGFNGERPIFV}{25}{RQRLQIGLSDSNLSDLAQWA-KVGSVALVLDMIEAGG}{406|}
\brow{37}{RRVRRDMLAFLISRPVLTGAGS}{5}{FGLSERGPA-MRCL}{}{ITTVLPGDRSIYD}{25}{RQRLQLGLSDSNGCHHAEYL-KLATTNLVLDMAEAGA}{369/}
% bottom consensus
\node[sqs] (bCa) at ({238-4.55},{\by{38}}) {\sq{..............b.h.s...}};
\node[sqs] (bCb) at ({451-4.55},{\by{38}}) {\sq{.....R........}};
\node[sqs] (bCc) at ({588-4.55},{\by{38}}) {\sq{..p.....R....}};
\node[sqs] (bCd) at ({720-4.55},{\by{38}}) {\sq{...lchb..Dss......h..................}};
% ---------- key
\node[draw,line width=1.2pt,anchor=north west,minimum width=982pt,minimum height=45pt,inner sep=0pt] (key) at (112,832) {};
\node[keyt] (keytitle) at (605,841) {Consensus and coloring key};
\node[keyi] (k1) at (123,861) {h:hydrophobic residues:};
\node[keyi,fill=cY] (k1c) at (k1.east) {ACFILMVWY};
\node[keyi] (k2) at (327,861) {s:small residues:};
\node[keyi,fill=cG] (k2c) at (k2.east) {AGSVCDN};
\node[keyi] (k3) at (472,861) {p:polar residues:};
\node[keyi,fill=cB] (k3c) at (k3.east) {STQKRHNED};
\node[keyi] (k4) at (641,861) {c:charged residues:};
\node[keyi,fill=cP] (k4c) at (k4.east) {EDHRK};
\node[keyi] (k5) at (822,861) {-:acidic residues:};
\node[keyi,fill=cP] (k5c) at (k5.east) {ED};
\node[keyi] (k6) at (936,861) {b:big residues:};
\node[keyi,fill=cK] (k6c) at (k6.east) {EFHIKLMQRWY};
\end{tikzpicture}
\end{document}
